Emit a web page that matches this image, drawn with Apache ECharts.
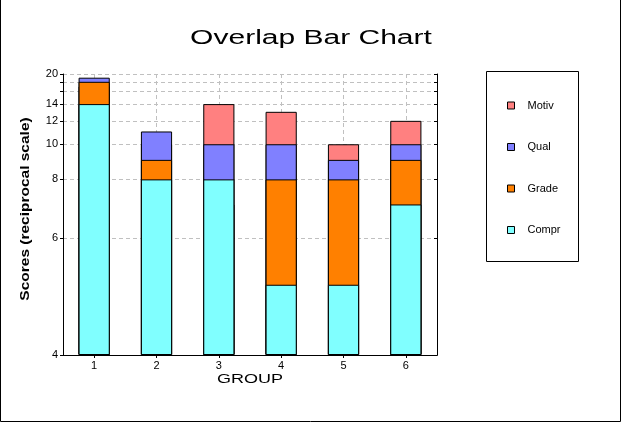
<!DOCTYPE html>
<html>
<head>
<meta charset="utf-8">
<script src="https://cdn.jsdelivr.net/npm/echarts@6/dist/echarts.min.js"></script>
<style>html,body{margin:0;padding:0;background:#fff;}#chart{width:622px;height:423px;}</style>
</head>
<body>
<div id="chart"></div>
<script>
const categories = ['1', '2', '3', '4', '5', '6'];
const seriesNames = ['Motiv', 'Qual', 'Grade', 'Compr'];
const motiv = [17, 10, 14, 13, 10, 12];
const qual = [19, 11, 10, 10, 9, 10];
const grade = [18, 9, 7, 8, 8, 9];
const compr = [14, 8, 8, 5, 5, 7];
const tickValues = [4, 6, 8, 10, 12, 14, 16, 18, 20];
const labelValues = [4, 6, 8, 10, 12, 14, 20];
const colors = ['#ff8080', '#8080ff', '#ff8000', '#80ffff'];

const FONT = 'Liberation Sans, Arial, sans-serif';
const YMIN = 4;
// reciprocal scale: position proportional to 1/YMIN - 1/y
const toAxis = v => 1 / YMIN - 1 / v;
const fromAxis = a => 1 / (1 / YMIN - a);
const axisMax = toAxis(20);

const values = [motiv, qual, grade, compr];
const chart = echarts.init(document.getElementById('chart'), null, {renderer: 'canvas'});

const gridLine = {show: true, lineStyle: {color: '#c0c0c0', type: [4, 3], width: 1}};

const option = {
  animation: false,
  backgroundColor: '#fff',
  grid: {left: 63, top: 74, right: 185, bottom: 68, containLabel: false},
  xAxis: [
    {
      type: 'category', data: categories, position: 'bottom',
      axisLine: {lineStyle: {color: '#000', width: 1}},
      axisTick: {show: false},
      axisLabel: {color: '#000', fontSize: 11, fontFamily: FONT, margin: 5},
      splitLine: Object.assign({alignWithLabel: true}, gridLine)
    },
    {
      type: 'category', data: categories, position: 'top',
      axisLine: {lineStyle: {color: '#000', width: 1}},
      axisTick: {show: true, inside: true, length: 3, alignWithLabel: true, lineStyle: {color: '#000'}},
      axisLabel: {show: false},
      splitLine: {show: false}
    }
  ],
  yAxis: [
    {
      type: 'value', min: 0, max: axisMax, position: 'left',
      axisLine: {show: true, lineStyle: {color: '#000', width: 1}},
      axisTick: {show: true, length: 3, lineStyle: {color: '#000'}, customValues: tickValues.map(toAxis)},
      axisLabel: {color: '#000', fontSize: 11, fontFamily: FONT, margin: 5,
        customValues: labelValues.map(toAxis),
        formatter: a => String(Math.round(fromAxis(a)))},
      splitLine: gridLine
    },
    {
      type: 'value', min: 0, max: axisMax, position: 'right',
      axisLine: {show: true, lineStyle: {color: '#000', width: 1}},
      axisTick: {show: true, inside: true, length: 3, lineStyle: {color: '#000'}, customValues: tickValues.map(toAxis)},
      axisLabel: {show: false},
      splitLine: {show: false}
    }
  ],
  legend: {
    orient: 'vertical', left: 502, top: 95, itemWidth: 7, itemHeight: 7, itemGap: 30.5,
    data: seriesNames,
    icon: 'rect',
    itemStyle: {borderColor: '#000', borderWidth: 1},
    textStyle: {color: '#000', fontSize: 11, fontFamily: FONT, padding: [0, 0, 0, 8]}
  },
  graphic: [
    {type: 'rect', shape: {x: 0.5, y: -2, width: 620, height: 423.5}, style: {fill: 'none', stroke: '#000', lineWidth: 1}, silent: true},
    {type: 'rect', shape: {x: 486.5, y: 71.5, width: 92, height: 190}, style: {fill: 'none', stroke: '#000', lineWidth: 1}, silent: true},
    {type: 'text', x: 311, y: 38, scaleX: 1.5, style: {text: 'Overlap Bar Chart', font: '20px ' + FONT, fill: '#000', align: 'center', verticalAlign: 'middle'}},
    {type: 'text', x: 250, y: 380, scaleX: 1.5, style: {text: 'GROUP', font: '12px ' + FONT, fill: '#000', align: 'center', verticalAlign: 'middle'}},
    {type: 'text', x: 26, y: 209, rotation: Math.PI / 2, scaleX: 1.29, style: {text: 'Scores (reciprocal scale)', font: 'bold 12px ' + FONT, fill: '#000', align: 'center', verticalAlign: 'middle'}}
  ],
  series: seriesNames.map((name, i) => ({
    name: name, type: 'bar', xAxisIndex: 0, yAxisIndex: 0,
    barWidth: '50%', barGap: '-100%',
    itemStyle: {color: colors[i], borderColor: '#000', borderWidth: 1},
    data: values[i].map(toAxis)
  }))
};
chart.setOption(option);
</script>
</body>
</html>
